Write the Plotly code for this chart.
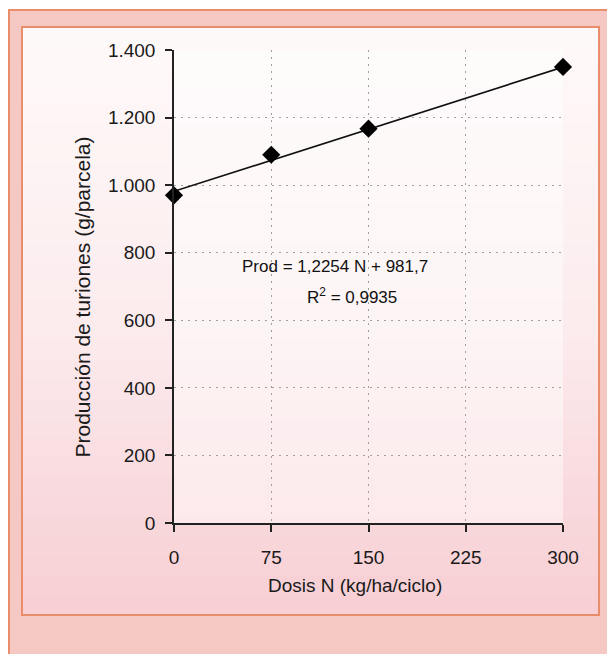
import plotly.graph_objects as go

# Nitrogen dose (kg/ha/cycle) and spear production (g/plot)
dosis = [0, 75, 150, 300]
produccion = [970, 1090, 1167, 1350]

# Fitted linear regression reported on the chart
pendiente = 1.2254
intercepto = 981.7
r2 = 0.9935
recta_x = [0, 300]
recta_y = [intercepto + pendiente * x for x in recta_x]

x_ticks = [0, 75, 150, 225, 300]
y_ticks = [0, 200, 400, 600, 800, 1000, 1200, 1400]

W, H = 607, 654
L, R, T, B = 174, 44, 50, 131
PW, PH = W - L - R, H - T - B


def px(xp):
    return (xp - L) / PW


def py(yp):
    return (H - B - yp) / PH


def rect(x0, y0, x1, y1, fill, line=None, lw=0):
    return dict(type="rect", xref="paper", yref="paper", layer="below",
                x0=px(x0), x1=px(x1), y0=py(y1), y1=py(y0),
                fillcolor=fill,
                line=dict(color=line or "rgba(0,0,0,0)", width=lw))


shapes = []
# salmon outer band of the box
shapes.append(rect(9, 10, 620, 670, "#f6c8c3", "#e98d6b", 2))

# inner panel with a soft vertical white-to-pink gradient
top_c = (254, 249, 249)
mid_c = (252, 236, 238)
bot_c = (247, 207, 212)
y0, y1 = 27, 615
n = 30
for i in range(n):
    t = i / (n - 1)
    if t < 0.5:
        u = t / 0.5
        c = [round(a + (b - a) * u) for a, b in zip(top_c, mid_c)]
    else:
        u = (t - 0.5) / 0.5
        c = [round(a + (b - a) * u) for a, b in zip(mid_c, bot_c)]
    ya = y0 + (y1 - y0) * i / n
    yb = y0 + (y1 - y0) * (i + 1) / n + 1
    shapes.append(rect(22, ya, 599, yb, "rgb(%d,%d,%d)" % tuple(c)))
shapes.append(rect(22, 27, 599, 615, "rgba(0,0,0,0)", "#e98d6b", 2))
# lighter plot area
shapes.append(rect(L, T, W - R, H - B, "rgba(255,255,255,0.45)"))

fig = go.Figure()
fig.add_trace(go.Scatter(
    x=recta_x, y=recta_y, mode="lines",
    line=dict(color="#111111", width=1.6),
    hoverinfo="skip", showlegend=False, cliponaxis=False,
))
fig.add_trace(go.Scatter(
    x=dosis, y=produccion, mode="markers",
    marker=dict(symbol="diamond", size=14, color="#000000"),
    showlegend=False, cliponaxis=False,
))

font_main = "Liberation Sans, Arial, sans-serif"
grid = dict(showgrid=True, gridcolor="#a0a0a0", griddash="2px,5px",
            gridwidth=1.2)

fig.update_layout(
    width=W, height=H,
    margin=dict(l=L, r=R, t=T, b=B, pad=0),
    paper_bgcolor="#ffffff",
    plot_bgcolor="rgba(0,0,0,0)",
    separators=",.",
    font=dict(family=font_main, size=19, color="#1a1a1a"),
    shapes=shapes,
    xaxis=dict(
        range=[0, 300], tickvals=x_ticks, ticks="outside", ticklen=7,
        tickcolor="#222222", tickwidth=1.5,
        showline=True, linecolor="#222222", linewidth=1.5,
        zeroline=False, ticklabelstandoff=9, **grid,
    ),
    yaxis=dict(
        range=[0, 1400], tickvals=y_ticks, tickformat=",d", ticks="outside",
        ticklen=7, tickcolor="#222222", tickwidth=1.5,
        showline=True, linecolor="#222222", linewidth=1.5,
        zeroline=False, ticklabelstandoff=6, **grid,
    ),
    annotations=[
        dict(text="Dosis N (kg/ha/ciclo)", xref="paper", yref="paper",
             x=px(355), y=py(598), showarrow=False,
             font=dict(size=19, color="#1a1a1a")),
        dict(text="Producción de turiones (g/parcela)", xref="paper",
             yref="paper", x=px(68), y=py(297), showarrow=False,
             textangle=-90, font=dict(size=21, color="#1a1a1a")),
        dict(text="Prod = %s N + %s" % (str(pendiente).replace(".", ","),
                                        str(intercepto).replace(".", ",")),
             xref="paper", yref="paper", x=px(335), y=py(266),
             showarrow=False, font=dict(size=17, color="#111111")),
        dict(text="R<sup>2</sup> = %s" % str(r2).replace(".", ","),
             xref="paper", yref="paper", x=px(352), y=py(296),
             showarrow=False, font=dict(size=17, color="#111111")),
    ],
)

fig.write_html("out.html")
